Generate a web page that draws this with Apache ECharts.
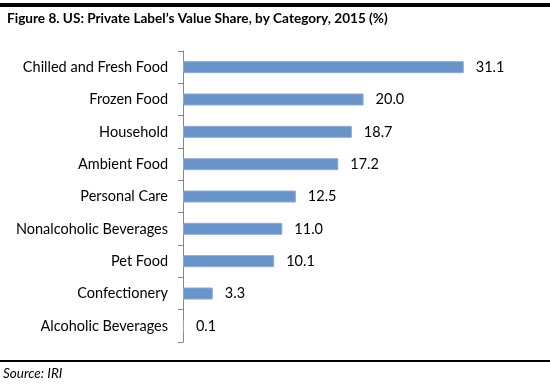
<!DOCTYPE html>
<html><head><meta charset="utf-8">
<script src="https://cdn.jsdelivr.net/npm/echarts@6/dist/echarts.min.js"></script>
<style>html,body{margin:0;padding:0;background:#fff}#c{width:550px;height:388px}</style>
</head><body><div id="c"></div>
<script>
const categories = ['Chilled and Fresh Food','Frozen Food','Household','Ambient Food','Personal Care','Nonalcoholic Beverages','Pet Food','Confectionery','Alcoholic Beverages'];
const values = [31.1, 20.0, 18.7, 17.2, 12.5, 11.0, 10.1, 3.3, 0.1];
const titleText = 'Figure 8. US: Private Label\u2019s Value Share, by Category, 2015 (%)';
const sourceText = 'Source: IRI';
const FONT = 'Lato';
const chart = echarts.init(document.getElementById('c'), null, {renderer:'canvas'});
chart.setOption({
  animation:false,
  backgroundColor:'#fff',
  title:{text:titleText,left:2,top:7,textStyle:{fontFamily:FONT,fontWeight:'bold',fontSize:13.6,color:'#000'}},
  graphic:[
    {type:'rect',shape:{x:0,y:3,width:550,height:4},style:{fill:'#000'}},
    {type:'rect',shape:{x:0,y:360,width:550,height:2},style:{fill:'#000'}},
    {type:'text',left:3,top:367,style:{text:sourceText,font:'italic 13.5px '+FONT,fill:'#000'}}
  ],
  grid:{left:183,top:51,width:316,height:291,containLabel:false},
  xAxis:{type:'value',min:0,max:35,show:false},
  yAxis:{type:'category',data:categories,inverse:true,
    axisLine:{lineStyle:{color:'#868686',width:1}},
    axisTick:{show:true,length:5,lineStyle:{color:'#868686'}},
    axisLabel:{margin:15,fontFamily:FONT,fontSize:14.5,color:'#000'}},
  series:[{type:'bar',data:values,barWidth:12,
    itemStyle:{color:'#6a94c8',borderColor:'#8aaad6',borderWidth:1},
    label:{show:true,position:'right',distance:12,fontFamily:FONT,fontSize:14.5,color:'#000',formatter:p=>p.value.toFixed(1)}}]
});
</script></body></html>
